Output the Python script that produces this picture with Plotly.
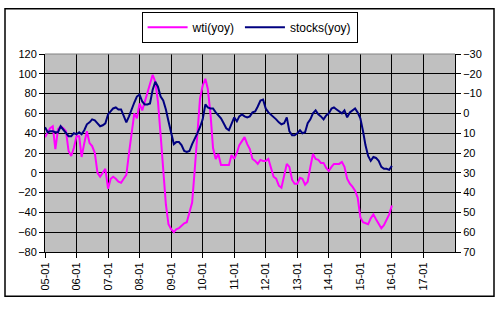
import pandas as pd
import plotly.graph_objects as go

# WTI year-over-year (%), monthly from 2005-01
wti = [36, 41, 45, 47, 24, 44, 47, 45, 42, 22, 17, 25,
       37, 37, 16, 30, 42, 30, 27, 20, 0, -4, 0, 4,
       -16, -6, -4, -6, -9, -10, -6, -2, 20, 42, 60, 55,
       70, 63, 72, 80, 90, 99, 92, 72, 38, 0, -32, -52,
       -57, -60, -57, -56, -53, -51, -50, -40, -30, 3, 40, 75,
       88, 95, 85, 60, 25, 14, 19, 8, 8, 8, 8, 18,
       14, 20, 28, 32, 36, 29, 24, 14, 12, 9, 13, 12,
       12, 14, 6, -4, -6, -13, -15, -3, 9, 6, -7, -11,
       -11, -5, -6, -12, -9, 6, 19, 14, 13, 10, 10, 5,
       2, 6, 9, 9, 9, 11, 6, -6, -11, -14, -18, -25,
       -45, -50, -51, -52, -46, -42, -47, -52, -56, -53, -48, -42,
       -33]

# Stocks year-over-year (%), right axis (reversed), monthly from 2005-01
stocks = [7, 9.5, 9, 9, 9.5, 9.5, 6.5, 8, 9.5, 11.5, 11.5, 10,
          10.5, 9.5, 10.5, 8.5, 5.5, 4.5, 3, 3.5, 5, 6.5, 6, 5,
          0.5, -1, -2.5, -3, -2, -2, 1, 4.5, 1.5, -2.5, -5.5, -8.5,
          -9.5, -6, -4.5, -4.5, -5, -12, -16, -13.5, -8.5, -6.5, -2, 4,
          10.5, 15.5, 14.5, 14.5, 16, 19, 19.5, 19, 15.5, 13, 10, 7,
          3, -4.5, -3, -2.5, -2.5, -0.5, 1, 2.5, 5, 7.5, 8.5, 5.5,
          2, 4, 1.5, 0.5, 1.5, 2, 1.5, -0.5, -1, -3.5, -6.5, -7,
          -2.5, -0.5, 0.5, 1.5, 3, 4.5, 5.5, 5, 2, 9, 11, 11,
          10, 8.5, 10, 9.5, 5, 3, 0, -1.5, 0.5, 1.5, 3, 1,
          0, -2.5, -3, -2, -1, 0, -1.5, 2, -0.5, -1.5, -2.5, -0.5,
          2.5, 9, 16, 21.5, 24, 22, 22.5, 24, 27, 28, 28, 28.5,
          26.5]

dates = pd.date_range("2005-01-01", periods=len(wti), freq="MS")

tick_years = list(range(2005, 2018))
tick_vals = [f"{y}-01-01" for y in tick_years]
tick_labels = [f"{y % 100:02d}-01" for y in tick_years]

font = "Liberation Sans, Arial, sans-serif"

fig = go.Figure()
fig.add_trace(go.Scatter(x=dates, y=wti, name="wti(yoy)", mode="lines",
                         line=dict(color="#FF00FF", width=2)))
fig.add_trace(go.Scatter(x=dates, y=stocks, name="stocks(yoy)", mode="lines",
                         yaxis="y2", line=dict(color="#000080", width=2)))

L, R, T, B = 45, 46, 51, 58
W, H = 501, 310
pw, ph = W - L - R, H - T - B

def px(x):
    return (x - L) / pw

def py(y):
    return (H - B - y) / ph

fig.update_layout(
    width=W, height=H,
    margin=dict(l=L, r=R, t=T, b=B),
    paper_bgcolor="white",
    plot_bgcolor="#C0C0C0",
    font=dict(family=font, size=11, color="black"),
    showlegend=True,
    legend=dict(orientation="h", x=0.499, xanchor="center", y=py(8), yanchor="top",
                bordercolor="black", borderwidth=1, bgcolor="white",
                font=dict(size=12), itemwidth=40, tracegroupgap=0),
    xaxis=dict(type="date", range=["2005-01-01", "2018-01-01"],
               tickvals=tick_vals, ticktext=tick_labels, tickangle=-90,
               showgrid=True, gridcolor="black", gridwidth=1,
               ticks="outside", ticklen=5, tickcolor="black",
               showline=True, linecolor="black", linewidth=1,
               zeroline=False, tickfont=dict(size=11)),
    yaxis=dict(range=[-80, 120], dtick=20, tick0=0,
               showgrid=True, gridcolor="black", gridwidth=1,
               ticks="outside", ticklen=5, tickcolor="black",
               showline=True, linecolor="black", linewidth=1,
               zeroline=False, tickfont=dict(size=11)),
    yaxis2=dict(range=[70, -30], dtick=10, tick0=0, overlaying="y", side="right",
                showgrid=False, ticks="outside", ticklen=5, tickcolor="black",
                showline=True, linecolor="black", linewidth=1,
                zeroline=False, tickfont=dict(size=11)),
    shapes=[
        dict(type="line", xref="paper", yref="paper", x0=0, x1=1, y0=1, y1=1,
             line=dict(color="#808080", width=1)),
        dict(type="rect", xref="paper", yref="paper",
             x0=px(5), x1=px(494), y0=py(297), y1=py(5),
             line=dict(color="black", width=1.5), fillcolor="rgba(0,0,0,0)"),
    ],
)

fig.write_html("out.html")
